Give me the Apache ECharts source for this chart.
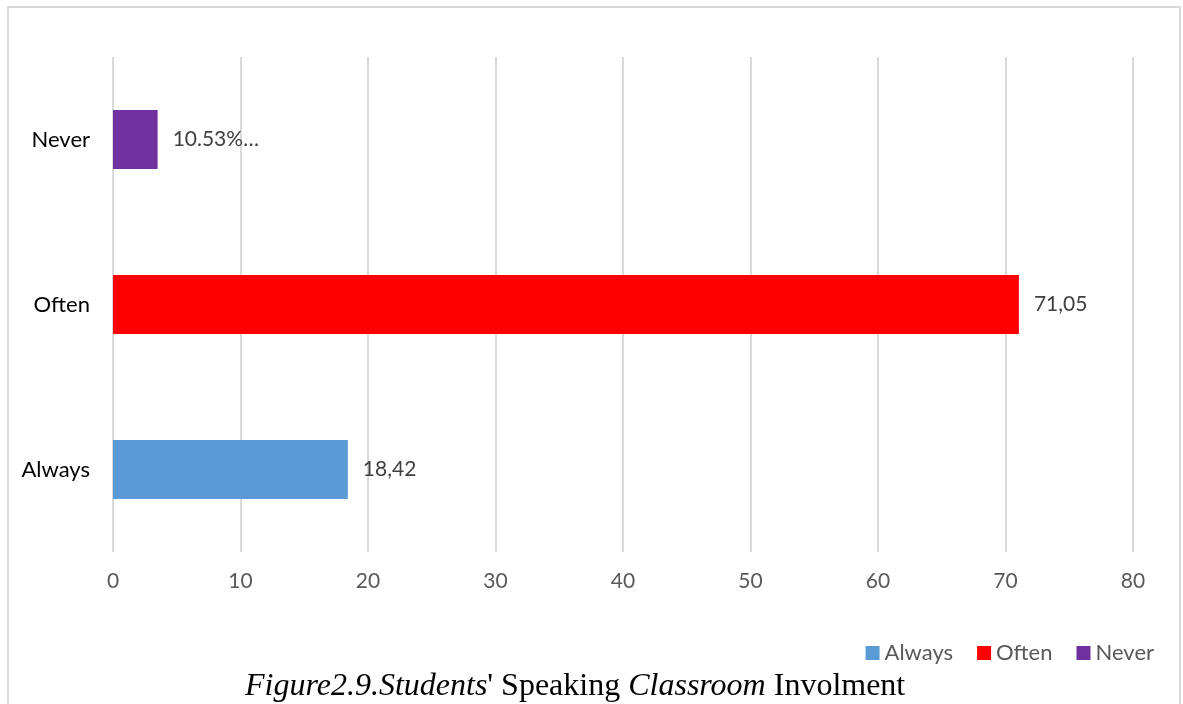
<!DOCTYPE html>
<html>
<head>
<meta charset="utf-8">
<script src="https://cdn.jsdelivr.net/npm/echarts@6/dist/echarts.min.js"></script>
<style>
html, body { margin: 0; padding: 0; background: #fff; }
#chart { width: 1183px; height: 704px; }
</style>
</head>
<body>
<div id="chart"></div>
<script>
// data
var categories = ['Always', 'Often', 'Never'];
var seriesNames = ['Always', 'Often', 'Never'];
var values = [18.42, 71.05, 3.5];
var labelTexts = ['18,42', '71,05', '10.53%…'];
var colors = ['#5b9bd5', '#ff0000', '#7030a0'];
var xTicks = [0, 80, 10];

var chart = echarts.init(document.getElementById('chart'));

var series = seriesNames.map(function (name, i) {
  var d = categories.map(function (c, j) { return j === i ? values[i] : '-'; });
  return {
    name: name,
    type: 'bar',
    stack: 'one',
    data: d,
    barWidth: 59,
    itemStyle: { color: colors[i] },
    label: {
      show: true,
      position: 'right',
      distance: 15,
      color: '#404040',
      fontSize: 21,
      fontFamily: 'Lato',
      formatter: function () { return labelTexts[i]; }
    }
  };
});

var option = {
  animation: false,
  graphic: [{
    type: 'rect',
    shape: { x: 8, y: 7, width: 1172, height: 720 },
    style: { fill: 'none', stroke: '#d9d9d9', lineWidth: 2 },
    silent: true
  }, {
    type: 'text',
    left: 245,
    top: 671,
    style: {
      text: '{i|Figure2.9.Students}{n|\' Speaking }{i|Classroom}{n| Involment}',
      rich: {
        i: { fontFamily: 'Liberation Serif', fontStyle: 'italic', fontSize: 32, fill: '#000' },
        n: { fontFamily: 'Liberation Serif', fontSize: 32, fill: '#000' }
      }
    }
  }],
  legend: {
    data: seriesNames,
    right: 24,
    top: 637,
    itemWidth: 14,
    itemHeight: 14,
    itemGap: 24,
    icon: 'rect',
    textStyle: { color: '#595959', fontSize: 22, fontFamily: 'Lato' }
  },
  grid: { left: 113, right: 50, top: 57, bottom: 152 },
  xAxis: {
    type: 'value',
    min: xTicks[0],
    max: xTicks[1],
    interval: xTicks[2],
    axisLine: { show: false },
    axisTick: { show: false },
    axisLabel: { color: '#595959', fontSize: 21, fontFamily: 'Lato', margin: 19 },
    splitLine: { lineStyle: { color: '#d9d9d9', width: 2 } }
  },
  yAxis: {
    type: 'category',
    data: categories,
    axisLine: { show: false },
    axisTick: { show: false },
    axisLabel: { color: '#000', fontSize: 22, fontFamily: 'Lato', margin: 23 },
    splitLine: { show: false }
  },
  series: series
};

chart.setOption(option);
</script>
</body>
</html>
